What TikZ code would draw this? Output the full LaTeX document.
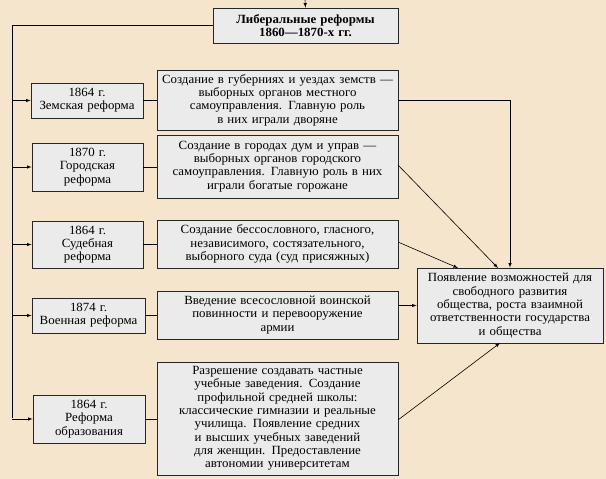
\documentclass[tikz,border=0pt]{standalone}
\usepackage{fontspec}
\setmainfont{Liberation Serif}[FakeStretch=1.03]
\begin{document}
\begin{tikzpicture}[x=1pt,y=-1pt,
  bx/.style={draw=black!85,line width=0.8pt,fill=black!8,align=center,inner sep=0pt,font=\fontsize{12.5}{13.3}\selectfont},
  ar/.style={-latex,line width=0.6pt},
  ln/.style={line width=0.6pt}]
\useasboundingbox[fill={rgb,255:red,245;green,229;blue,205}] (0,0) rectangle (606,479);
\newcommand{\bxat}[6]{\node[bx,minimum width=#4-#2,minimum height=#5-#3,text width=#4-#2-2] (#1) at ({(#2+#4)/2},{(#3+#5)/2}) {#6};}
\bxat{t}{213}{8}{398}{43}{\textbf{Либеральные реформы}\\\textbf{1860—1870-х гг.}}
\coordinate (top) at (305,0);
\draw[ar] (top) -- (t.north);
\bxat{l1}{31}{83}{143}{118}{1864 г.\\Земская реформа}
\bxat{l2}{32}{143}{143}{191}{1870 г.\\Городская\\реформа}
\bxat{l3}{32}{221}{143}{268}{1864 г.\\Судебная\\реформа}
\bxat{l4}{32}{298}{145}{333}{1874 г.\\Военная реформа}
\bxat{l5}{33}{395}{145}{443}{1864 г.\\Реформа\\образования}
\bxat{m1}{157}{70}{398}{130}{Создание в губерниях и уездах земств —\\выборных органов местного\\самоуправления. Главную роль\\в них играли дворяне}
\bxat{m2}{157}{135}{398}{198}{Создание в городах дум и управ —\\выборных органов городского\\самоуправления. Главную роль в них\\играли богатые горожане}
\bxat{m3}{157}{220}{398}{268}{Создание бессословного, гласного,\\независимого, состязательного,\\выборного суда (суд присяжных)}
\bxat{m4}{157}{291}{398}{339}{Введение всесословной воинской\\повинности и перевооружение\\армии}
\bxat{m5}{157}{362}{398}{475}{Разрешение создавать частные\\учебные заведения. Создание\\профильной средней школы:\\классические гимназии и реальные\\училища. Появление средних\\и высших учебных заведений\\для женщин. Предоставление\\автономии университетам}
\bxat{r}{417}{268}{603}{343}{Появление возможностей для\\свободного развития\\общества, роста взаимной\\ответственности государства\\и общества}
\coordinate (c0) at (12,25);
\coordinate (c5) at (12,418);
\draw[ln] (c0-|t.west) -- (c0) -- (c5);
\foreach \n in {l1,l2,l3,l4,l5}{\draw[ar] (c0|-\n.west) -- (\n.west);}
\foreach \a/\b in {l1/m1,l2/m2,l3/m3,l4/m4,l5/m5}{\draw[ln] (\a.east) -- (\a.east-|\b.west);}
\coordinate (k1) at (510,100);
\draw[ar] (m1.east|-k1) -- (k1) -- (k1|-r.north);
\draw[ar] (398,165) -- (498,268);
\draw[ar] (398,242) -- (458,268);
\draw[ar] (m4.east|-r.west) -- (r.west);
\draw[ar] (398,420) -- (500,343);
\end{tikzpicture}
\end{document}
